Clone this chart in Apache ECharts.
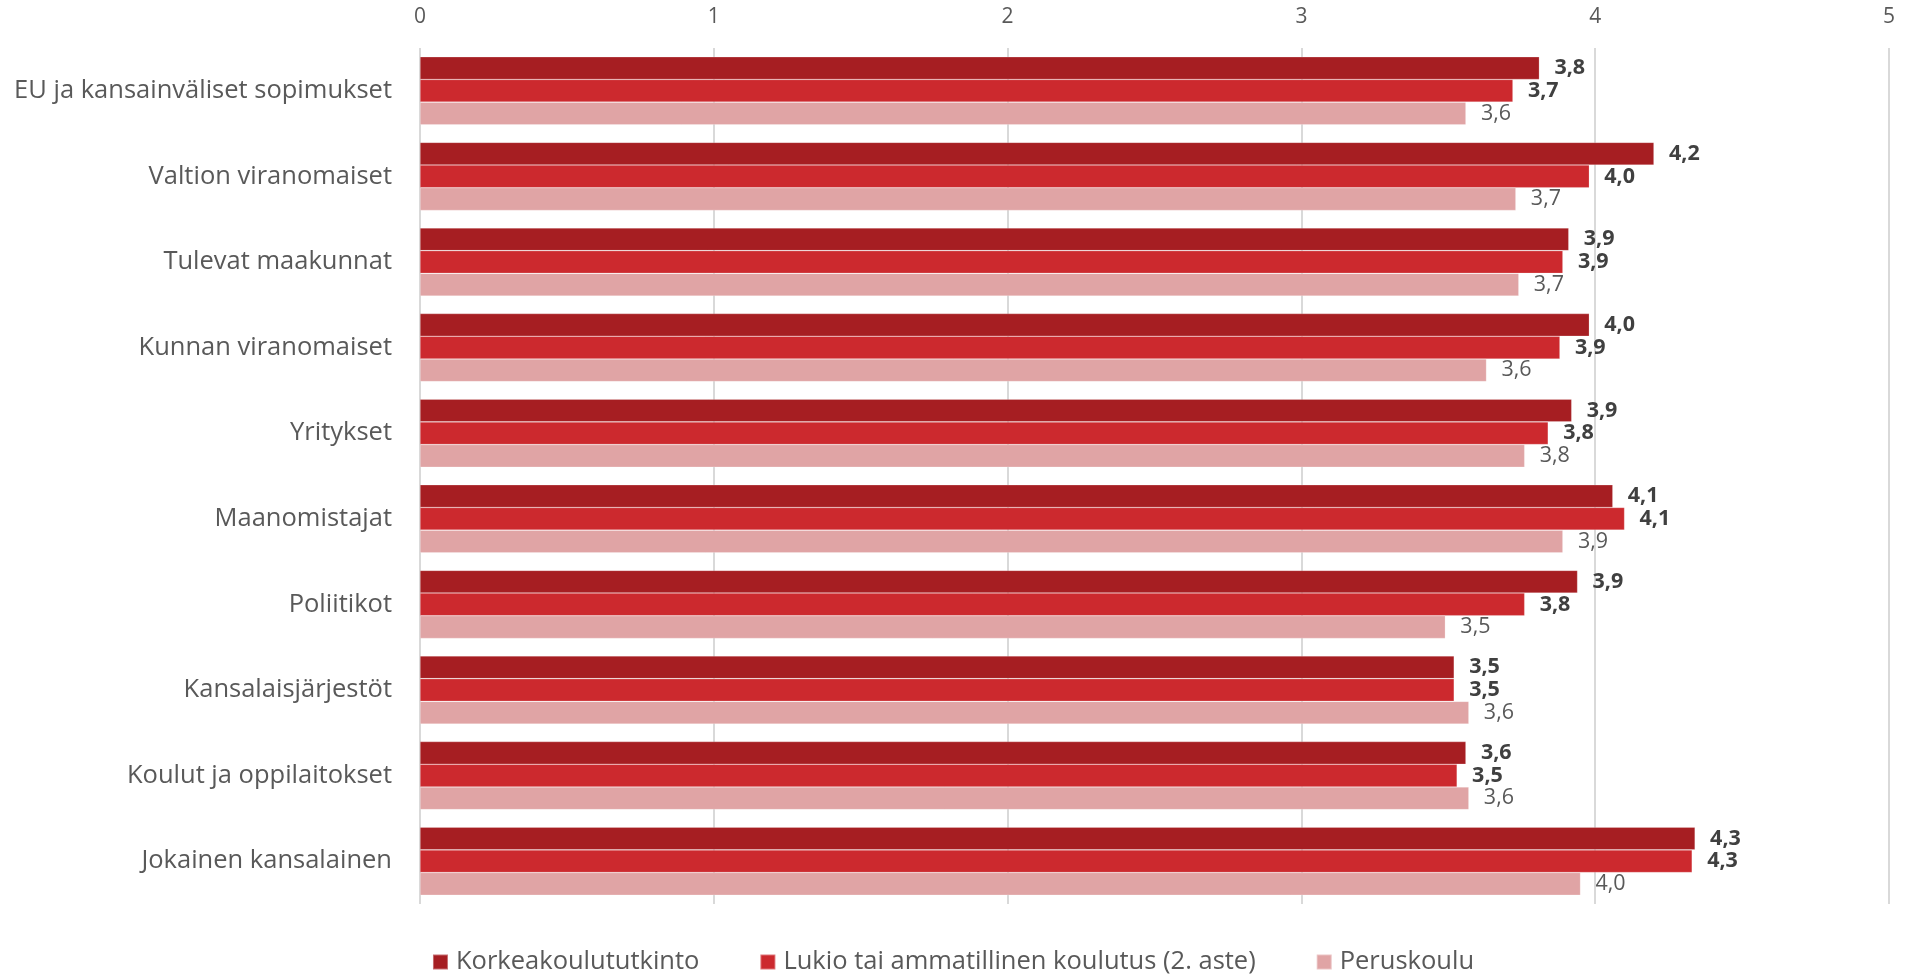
<!DOCTYPE html>
<html>
<head>
<meta charset="utf-8">
<script src="https://cdn.jsdelivr.net/npm/echarts@6/dist/echarts.min.js"></script>
<style>
  html, body { margin: 0; padding: 0; background: #fff; }
  #chart { width: 1906px; height: 974px; }
</style>
</head>
<body>
<div id="chart"></div>
<script>
const categories = [
  "EU ja kansainväliset sopimukset",
  "Valtion viranomaiset",
  "Tulevat maakunnat",
  "Kunnan viranomaiset",
  "Yritykset",
  "Maanomistajat",
  "Poliitikot",
  "Kansalaisjärjestöt",
  "Koulut ja oppilaitokset",
  "Jokainen kansalainen"
];
const seriesNames = [
  "Korkeakoulututkinto",
  "Lukio tai ammatillinen koulutus (2. aste)",
  "Peruskoulu"
];
const korkeakoulu = [3.81, 4.2, 3.91, 3.98, 3.92, 4.06, 3.94, 3.52, 3.56, 4.34];
const lukio = [3.72, 3.98, 3.89, 3.88, 3.84, 4.1, 3.76, 3.52, 3.53, 4.33];
const peruskoulu = [3.56, 3.73, 3.74, 3.63, 3.76, 3.89, 3.49, 3.57, 3.57, 3.95];
const xTicks = [0, 1, 2, 3, 4, 5];

const colors = ["#A61E22", "#CC292E", "#E0A4A5"];
const font = "'Open Sans', sans-serif";

const fmt = (p) => p.value.toFixed(1).replace(".", ",");

const makeSeries = (name, data, i) => ({
  name: name,
  type: "bar",
  data: data,
  barGap: "0%",
  barCategoryGap: "20.5%",
  itemStyle: {
    color: colors[i],
    borderColor: "rgba(255,255,255,0.35)",
    borderWidth: 0.6
  },
  label: {
    show: true,
    position: "right",
    distance: 15,
    formatter: fmt,
    fontFamily: font,
    fontSize: 21.5,
    fontWeight: i < 2 ? "bold" : "normal",
    color: i < 2 ? "#404040" : "#595959"
  }
});

const chart = echarts.init(document.getElementById("chart"));
const option = {
  animation: false,
  textStyle: { fontFamily: font },
  grid: { left: 420, right: 17, top: 48, bottom: 70, containLabel: false },
  legend: {
    top: 944,
    left: "center",
    icon: "rect",
    itemWidth: 15,
    itemHeight: 15,
    itemGap: 60,
    textStyle: { fontFamily: font, fontSize: 25.5, color: "#595959", padding: [0, 0, 0, 3] },
    data: seriesNames
  },
  xAxis: {
    type: "value",
    position: "top",
    min: xTicks[0],
    max: xTicks[xTicks.length - 1],
    interval: 1,
    axisLine: { show: false },
    axisTick: { show: false },
    axisLabel: { fontSize: 21, color: "#595959", margin: 20, fontFamily: font },
    splitLine: { show: true, lineStyle: { color: "#D9D9D9", width: 2 } }
  },
  yAxis: {
    type: "category",
    inverse: true,
    data: categories,
    axisLine: { show: false },
    axisTick: { show: false },
    axisLabel: { fontSize: 25.5, color: "#595959", margin: 28, fontFamily: font }
  },
  series: [
    makeSeries(seriesNames[0], korkeakoulu, 0),
    makeSeries(seriesNames[1], lukio, 1),
    makeSeries(seriesNames[2], peruskoulu, 2)
  ]
};
chart.setOption(option);
</script>
</body>
</html>
